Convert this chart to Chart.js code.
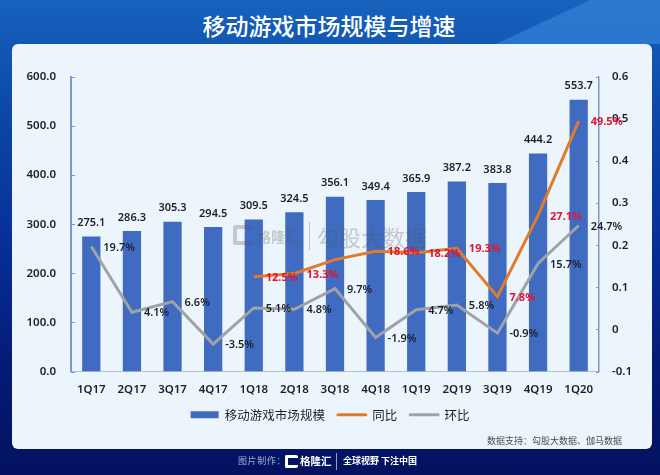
<!DOCTYPE html>
<html>
<head>
<meta charset="utf-8">
<script src="https://cdn.jsdelivr.net/npm/chart.js@4/dist/chart.umd.min.js"></script>
<style>
  html, body { margin: 0; padding: 0; }
  body {
    width: 660px; height: 475px; overflow: hidden; position: relative;
    font-family: "Noto Sans CJK SC", sans-serif;
    background: linear-gradient(180deg, #1762bd 0%, #0b46a8 25%, #07309a 50%, #041a75 78%, #03125f 100%);
  }
  .band {
    position: absolute; left: 0; top: 0; width: 660px; height: 44px;
    background: linear-gradient(155deg, transparent 0 78%, rgba(60,140,225,.55) 78.5%);
  }
  .title {
    position: absolute; left: -1px; top: 8px; width: 660px; text-align: center;
    color: #fff; font-size: 23px; line-height: 34px; font-weight: 500;
  }
  #sheet {
    position: absolute; left: 12px; top: 44px; width: 640px; height: 405px;
    background: #edf5fc; border-radius: 6px;
  }
  canvas { position: absolute; left: 0; top: 0; }
  .mark { position: absolute; left: 233px; top: 222px; width: 200px; height: 30px; opacity: .28; color: #555; }
  .mark .logo { position: absolute; left: 0; top: 3px; width: 20px; height: 20px; border: 4px solid #555; border-radius: 3px; box-sizing: border-box; border-right-width: 0; }
  .mark .name { position: absolute; left: 24px; top: 2px; font-size: 14px; line-height: 24px; font-weight: 700; white-space: nowrap; }
  .mark .sep { position: absolute; left: 76px; top: 0; width: 1px; height: 28px; background: #555; }
  .mark .big { position: absolute; left: 84px; top: 0; font-size: 22px; line-height: 28px; white-space: nowrap; }
  .source {
    position: absolute; left: 487px; top: 434px; color: #444b58;
    font-size: 9px; line-height: 14px; white-space: nowrap;
  }
  .foot { position: absolute; top: 451px; height: 20px; line-height: 20px; white-space: nowrap; }
  .foot.made { left: 238px; color: #9fb0d8; font-size: 9px; letter-spacing: .6px; }
  .foot.logo { left: 285px; top: 455px; width: 13px; height: 13px; border: 3px solid #fff; border-right-width: 0; box-sizing: border-box; border-radius: 2px; }
  .foot.name { left: 300px; color: #fff; font-size: 10.5px; font-weight: 700; }
  .foot.sep { left: 336px; top: 453px; width: 1px; height: 17px; background: #8fa3cf; }
  .foot.slogan { left: 343px; color: #fff; font-size: 9px; font-weight: 700; }
</style>
</head>
<body>
<div class="band"></div>
<div class="title">移动游戏市场规模与增速</div>
<div id="sheet"></div>
<canvas id="gameChart" width="660" height="475"></canvas>
<div class="mark">
  <div class="logo"></div><div class="name">格隆汇</div><div class="sep"></div><div class="big">勾股大数据</div>
</div>
<div class="source">数据支持：勾股大数据、伽马数据</div>
<div class="foot made">图片制作：</div>
<div class="foot logo"></div>
<div class="foot name">格隆汇</div>
<div class="foot sep"></div>
<div class="foot slogan">全球视野 下注中国</div>
<script>
const quarters = ["1Q17", "2Q17", "3Q17", "4Q17", "1Q18", "2Q18", "3Q18", "4Q18", "1Q19", "2Q19", "3Q19", "4Q19", "1Q20"];
const marketSize = [275.1, 286.3, 305.3, 294.5, 309.5, 324.5, 356.1, 349.4, 365.9, 387.2, 383.8, 444.2, 553.7];
const yoy = [null, null, null, null, 0.125, 0.133, 0.166, 0.186, 0.182, 0.193, 0.078, 0.271, 0.495];
const yoyLabels = ["", "", "", "", "12.5%", "13.3%", "", "18.6%", "18.2%", "19.3%", "7.8%", "27.1%", "49.5%"];
const qoq = [0.197, 0.041, 0.066, -0.035, 0.051, 0.048, 0.097, -0.019, 0.047, 0.058, -0.009, 0.157, 0.247];
const qoqLabels = ["19.7%", "4.1%", "6.6%", "-3.5%", "5.1%", "4.8%", "9.7%", "-1.9%", "4.7%", "5.8%", "-0.9%", "15.7%", "24.7%"];
const rightTicks = { "0.6": "0.6", "0.5": "0.5", "0.4": "0.4", "0.3": "0.3", "0.2": "0.2", "0.1": "0.1", "0": "0", "-0.1": "-0.1" };

const labelFont = "600 11px 'Noto Sans', sans-serif";
const redFont = "700 11px 'Noto Sans', sans-serif";
const tickFont = { family: "'Noto Sans', sans-serif", size: 11.5, weight: "600" };
const axisBlue = "#7f96cf";

// value labels and the small inward tick marks
const decorate = {
  id: "decorate",
  afterDatasetsDraw(chart) {
    const ctx = chart.ctx;
    const left = chart.scales.y;
    const right = chart.scales.y1;

    ctx.save();
    ctx.strokeStyle = axisBlue;
    ctx.lineWidth = 1;
    left.ticks.forEach((t, i) => {
      const y = Math.round(left.getPixelForTick(i)) + 0.5;
      ctx.beginPath(); ctx.moveTo(left.right, y); ctx.lineTo(left.right + 4, y); ctx.stroke();
    });
    right.ticks.forEach((t, i) => {
      const y = Math.round(right.getPixelForTick(i)) + 0.5;
      ctx.beginPath(); ctx.moveTo(right.left, y); ctx.lineTo(right.left - 3, y); ctx.stroke();
    });

    ctx.font = labelFont;
    ctx.textBaseline = "middle";

    // bar values
    ctx.fillStyle = "#1b1f2a";
    ctx.textAlign = "center";
    chart.getDatasetMeta(0).data.forEach((bar, i) => {
      ctx.fillText(marketSize[i].toFixed(1), bar.x, bar.y - 13.5);
    });

    // 环比, then 同比 to the right of their points
    ctx.textAlign = "left";
    chart.getDatasetMeta(2).data.forEach((pt, i) => {
      ctx.fillText(qoqLabels[i], pt.x + 12, pt.y + 1);
    });
    ctx.font = redFont;
    ctx.fillStyle = "#e3142d";
    chart.getDatasetMeta(1).data.forEach((pt, i) => {
      if (yoyLabels[i]) ctx.fillText(yoyLabels[i], pt.x + 12, pt.y + 1);
    });
    ctx.restore();
  }
};

new Chart(document.getElementById("gameChart").getContext("2d"), {
  type: "bar",
  data: {
    labels: quarters,
    datasets: [
      { label: "移动游戏市场规模", data: marketSize, backgroundColor: "#3f6cc0", barPercentage: 0.45, categoryPercentage: 1, yAxisID: "y", order: 3 },
      { type: "line", label: "同比", data: yoy, borderColor: "#e07b2c", borderWidth: 3, pointRadius: 0, tension: 0, yAxisID: "y1", order: 1 },
      { type: "line", label: "环比", data: qoq, borderColor: "#9fa3a8", borderWidth: 3, pointRadius: 0, tension: 0, yAxisID: "y1", order: 2 }
    ]
  },
  options: {
    responsive: false,
    animation: false,
    layout: { padding: { left: 0, right: 0, top: 77, bottom: 44 } },
    scales: {
      x: {
        grid: { display: false, drawTicks: false },
        border: { color: "#b4c0d6", width: 1 },
        ticks: { color: "#1b1f2a", font: tickFont, padding: 11, maxRotation: 0, autoSkip: false },
        afterFit(scale) { scale.height = 24; }
      },
      y: {
        position: "left", min: 0, max: 600,
        grid: { display: false, drawTicks: false },
        border: { color: axisBlue, width: 2 },
        ticks: { stepSize: 100, color: "#1b1f2a", padding: 15, font: tickFont, callback: v => v.toFixed(1) },
        afterFit(scale) { scale.width = 71; }
      },
      y1: {
        position: "right", min: -0.1, max: 0.6,
        grid: { display: false, drawTicks: false },
        border: { color: axisBlue, width: 1.5 },
        ticks: { stepSize: 0.1, color: "#1b1f2a", padding: 13, font: tickFont, callback: v => rightTicks[String(Math.round(v * 10) / 10)] },
        afterFit(scale) { scale.width = 61; }
      }
    },
    plugins: {
      tooltip: { enabled: false },
      legend: {
        position: "bottom",
        labels: {
          usePointStyle: true,
          pointStyleWidth: 28,
          boxHeight: 7,
          padding: 13,
          color: "#1b1f2a",
          font: { family: "'Noto Sans CJK SC', sans-serif", size: 12.5 },
          generateLabels(chart) {
            return chart.data.datasets.map((ds, i) => ({
              text: ds.label,
              datasetIndex: i,
              fontColor: "#1b1f2a",
              fillStyle: i === 0 ? ds.backgroundColor : ds.borderColor,
              strokeStyle: i === 0 ? ds.backgroundColor : ds.borderColor,
              lineWidth: i === 0 ? 0 : 3,
              lineCap: "round",
              pointStyle: i === 0 ? "rect" : "line"
            }));
          }
        }
      }
    }
  },
  plugins: [decorate]
});
</script>
</body>
</html>
